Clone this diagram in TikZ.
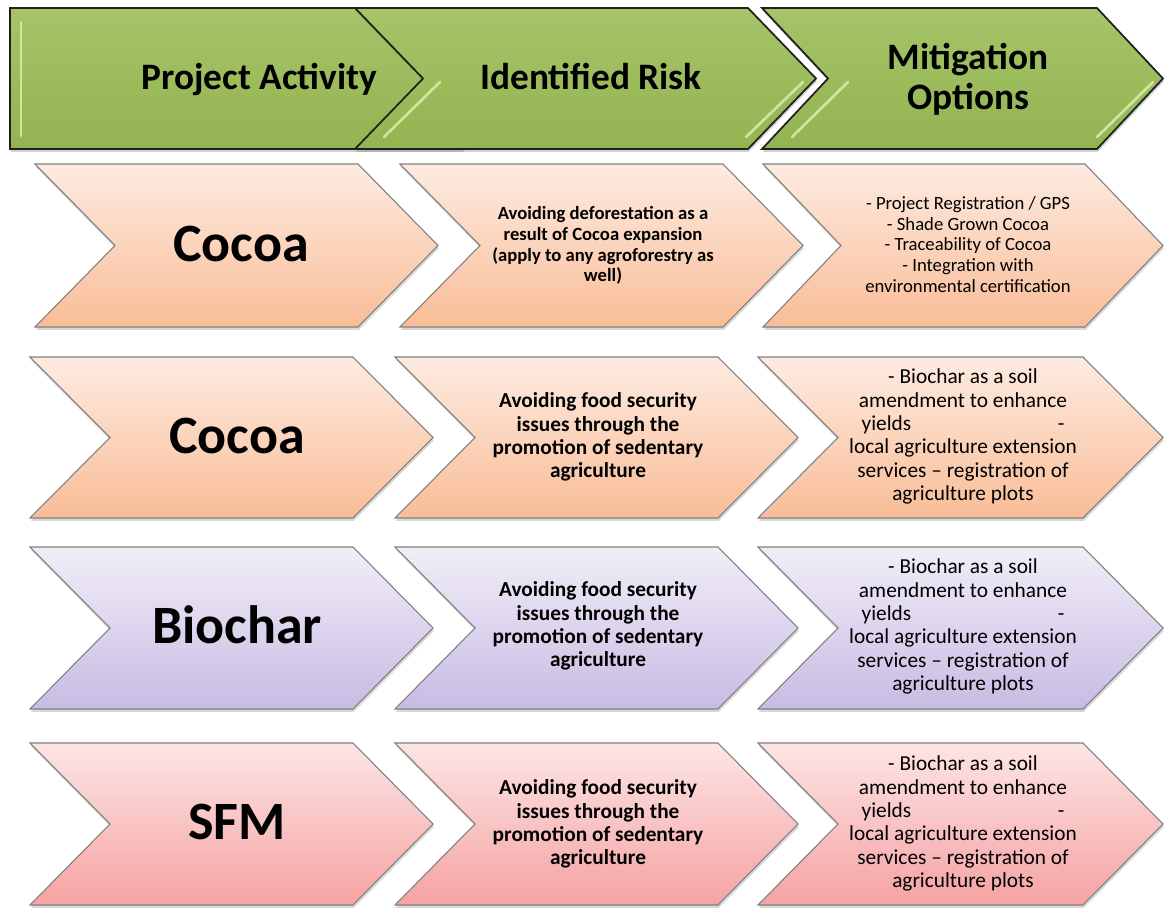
\documentclass[tikz,border=0pt]{standalone}
\usepackage{fontspec}
\setmainfont{Carlito}
\usetikzlibrary{shadows}
\definecolor{hdrtop}{HTML}{A6C468}
\definecolor{hdrbot}{HTML}{93B451}
\definecolor{hdrlight}{HTML}{DCECAE}
\definecolor{peachtop}{HTML}{FDEBE1}
\definecolor{peachbot}{HTML}{F9BD97}
\definecolor{lavtop}{HTML}{F1EEF8}
\definecolor{lavbot}{HTML}{C8BBE3}
\definecolor{pinktop}{HTML}{FDE5E5}
\definecolor{pinkbot}{HTML}{F5A2A2}
\newcommand{\chev}[6]{\path[#6] (#1,#2) -- (#4,#2) -- ({#4+#5},{(#2+#3)/2}) -- (#4,#3) -- (#1,#3) -- ({#1+#5},{(#2+#3)/2}) -- cycle;}
\tikzset{
  hdr/.style={draw=black!88, line width=1.3pt, top color=hdrtop, bottom color=hdrbot,
    drop shadow={opacity=0.35, shadow xshift=0.6pt, shadow yshift=-2.2pt}},
  rowbox/.style={draw=black!50, line width=0.8pt,
    drop shadow={opacity=0.3, shadow xshift=0.6pt, shadow yshift=-2.2pt}},
  peach/.style={rowbox, top color=peachtop, bottom color=peachbot},
  lav/.style={rowbox, top color=lavtop, bottom color=lavbot},
  pinkbox/.style={rowbox, top color=pinktop, bottom color=pinkbot},
  bevel/.style={draw=hdrlight, line width=2pt, line cap=round, opacity=0.85},
  hdrtext/.style={font=\bfseries\fontsize{28}{30}\selectfont, align=center, inner sep=0pt},
  acttext/.style={font=\bfseries\fontsize{40.5}{44}\selectfont, inner sep=0pt},
  risktext/.style={font=\bfseries\fontsize{16}{17.5}\selectfont, align=center, inner sep=0pt},
  risksmall/.style={font=\bfseries\fontsize{14}{15.6}\selectfont, align=center, inner sep=0pt},
  mittext/.style={font=\fontsize{16}{17.5}\selectfont, align=center, inner sep=0pt},
  mitsmall/.style={font=\fontsize{14}{15.5}\selectfont, align=center, inner sep=0pt}
}
\newcommand{\mitlines}{- Biochar as a soil\\amendment to enhance\\\makebox[152pt]{yields\hfill-}\\local agriculture extension\\services – registration of\\agriculture plots}
\newcommand{\risklines}{Avoiding food security\\issues through the\\promotion of sedentary\\agriculture}
\begin{document}
\begin{tikzpicture}[x=0.75pt,y=-0.75pt]
\useasboundingbox[fill=white] (0,0) rectangle (1164,907);
% header
\path[hdr] (10,8) -- (462,8) -- (532,78.5) -- (462,149) -- (10,149) -- cycle;
\draw[bevel] (21,22) -- (21,136);
\chev{355}{8}{149}{748}{68}{hdr}
\draw[bevel] (440,82) -- (384,137);
\draw[bevel] (803,82) -- (746,137);
\chev{762}{8}{149}{1097}{66}{hdr}
\draw[bevel] (848,82) -- (792,137);
\draw[bevel] (1153,82) -- (1097,137);
\node[hdrtext, anchor=base] (h1) at (259.5,89) {Project Activity};
\node[hdrtext, anchor=base] (h2) at (591,89) {Identified Risk};
\node[hdrtext] (h3) at (968,79) {Mitigation\\Options};
% row 1
\chev{35}{164}{327}{358}{80}{peach}
\chev{400}{164}{327}{723}{80}{peach}
\chev{763}{164}{327}{1085}{78}{peach}
\node[acttext, anchor=base] (a1) at (241,261) {Cocoa};
\node[risksmall] (r1) at (603,245.5) {Avoiding deforestation as a\\result of Cocoa expansion\\(apply to any agroforestry as\\well)};
\node[mitsmall] (m1) at (968,244.5) {- Project Registration / GPS\\- Shade Grown Cocoa\\- Traceability of Cocoa\\- Integration with\\environmental certification};
% row 2
\chev{30}{357}{518}{353}{80}{peach}
\chev{395}{357}{518}{718}{80}{peach}
\chev{758}{357}{518}{1083}{80}{peach}
\node[acttext, anchor=base] (a2) at (237,453) {Cocoa};
\node[risktext] (r2) at (598,437) {\risklines};
\node[mittext] (m2) at (963,436.5) {\mitlines};
% row 3
\chev{30}{547}{709}{353}{80}{lav}
\chev{395}{547}{709}{718}{80}{lav}
\chev{758}{547}{709}{1083}{80}{lav}
\node[acttext, anchor=base] (a3) at (237,643) {Biochar};
\node[risktext] (r3) at (598,626) {\risklines};
\node[mittext] (m3) at (963,626.5) {\mitlines};
% row 4
\chev{30}{743}{905}{353}{80}{pinkbox}
\chev{395}{743}{905}{718}{80}{pinkbox}
\chev{758}{743}{905}{1083}{80}{pinkbox}
\node[acttext, anchor=base] (a4) at (237,839) {SFM};
\node[risktext] (r4) at (598,824) {\risklines};
\node[mittext] (m4) at (963,823.5) {\mitlines};
\end{tikzpicture}
\end{document}
